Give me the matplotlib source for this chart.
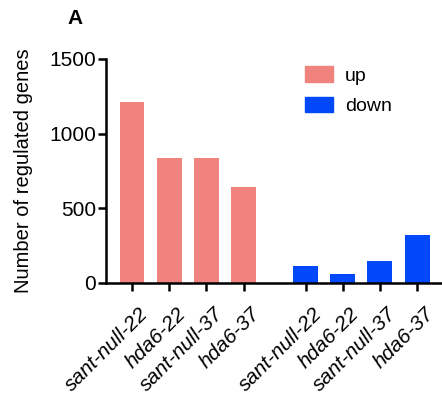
import matplotlib
matplotlib.use('Agg')
import matplotlib.pyplot as plt
import matplotlib.transforms as mtransforms
from matplotlib.patches import Patch

plt.rcParams['font.family'] = ['Liberation Sans', 'DejaVu Sans']

labels = ['sant-null-22', 'hda6-22', 'sant-null-37', 'hda6-37',
          'sant-null-22', 'hda6-22', 'sant-null-37', 'hda6-37']
up_vals = [1210, 840, 840, 645]
down_vals = [116, 60, 145, 321]
positions = [0, 1, 2, 3, 4.67, 5.67, 6.67, 7.67]

up_color = '#F0837E'
down_color = '#0048F8'

fig = plt.figure(figsize=(4.42, 3.95), dpi=100)
ax = fig.add_axes([106 / 442, (395 - 283) / 395, (442 - 106) / 442, (283 - 59) / 395])

w = 0.67
ax.bar(positions[:4], up_vals, width=w, color=up_color)
ax.bar(positions[4:], down_vals, width=w, color=down_color)

ax.set_xlim(-0.7, 8.34)
ax.set_ylim(0, 1500)
ax.set_yticks([0, 500, 1000, 1500])
ax.set_xticks(positions)
ax.set_xticklabels(labels, rotation=45, ha='right', rotation_mode='anchor',
                   style='italic', fontsize=15)
ax.tick_params(axis='y', labelsize=15, width=1.8, length=6, pad=1)
ax.tick_params(axis='x', width=1.8, length=6, pad=9)
ax.set_ylabel('Number of regulated genes', fontsize=14.5, labelpad=12)

# nudge the rotated labels a little to the right, as in the original
shift = mtransforms.ScaledTranslation(7 / 100, 0, fig.dpi_scale_trans)
for lab in ax.get_xticklabels():
    lab.set_transform(lab.get_transform() + shift)

for s in ['top', 'right']:
    ax.spines[s].set_visible(False)
for s in ['left', 'bottom']:
    ax.spines[s].set_linewidth(1.8)

handles = [Patch(color=up_color, label='up'), Patch(color=down_color, label='down')]
ax.legend(handles=handles, loc='upper left', bbox_to_anchor=(0.592, 0.967),
          frameon=False, fontsize=14, handlelength=1.45, handleheight=0.85,
          labelspacing=0.6, handletextpad=0.6, borderpad=0, borderaxespad=0)

fig.text(75 / 442, 1 - 18 / 395, 'A', fontsize=15, fontweight='bold',
         ha='center', va='center')

fig.savefig('out.png', dpi=100)
